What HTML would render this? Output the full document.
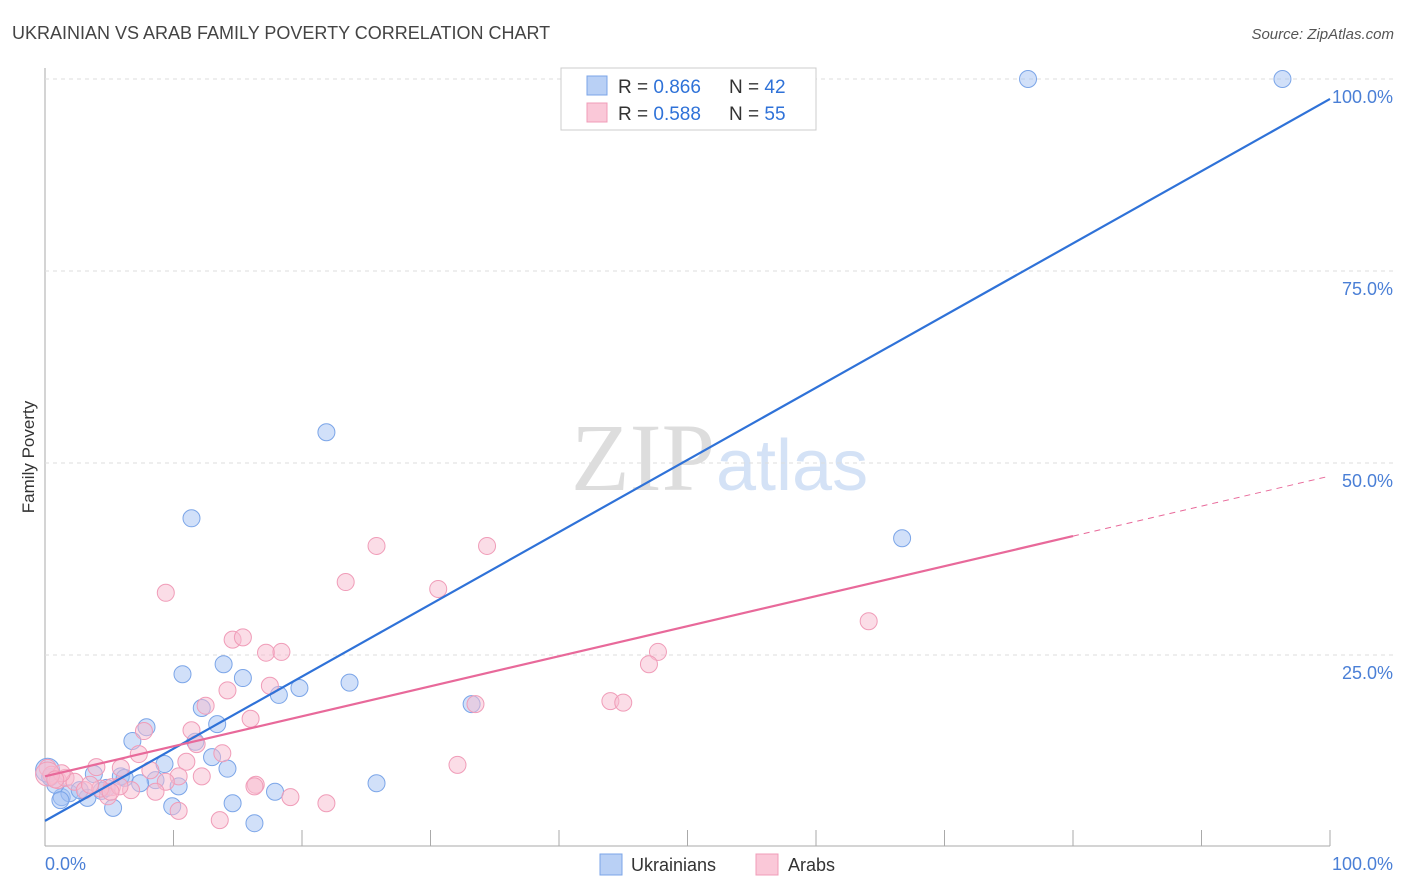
<!DOCTYPE html>
<html><head><meta charset="utf-8"><style>
body{margin:0;background:#fff;font-family:"Liberation Sans",sans-serif;}
#wrap{position:relative;width:1406px;height:892px;overflow:hidden;}
</style></head><body>
<div id="wrap">
<svg id="svg" width="1406" height="892" xmlns="http://www.w3.org/2000/svg" font-family="Liberation Sans, sans-serif">
<text x="12" y="39" font-size="18" fill="#444">UKRAINIAN VS ARAB FAMILY POVERTY CORRELATION CHART</text>
<text x="1394" y="39" font-size="15" fill="#555" font-style="italic" text-anchor="end">Source: ZipAtlas.com</text>
<text x="34" y="457" font-size="17" fill="#333" transform="rotate(-90 34 457)" text-anchor="middle">Family Poverty</text>
<text x="715" y="490" font-size="96" fill="#ddd" text-anchor="end" font-family="Liberation Serif, serif">ZIP</text>
<text x="716" y="490" font-size="72" fill="#d4e2f6">atlas</text>
<g id="grid"></g><g id="pts"></g><g id="lines"></g>
<rect x="561" y="68" width="255" height="62" fill="#fff" stroke="#ccc"/>
<rect x="587" y="76" width="20" height="19" fill="#b9d0f5" stroke="#7ba5e8"/>
<rect x="587" y="103" width="20" height="19" fill="#fac8d8" stroke="#f09cb8"/>
<text x="618" y="93" font-size="19" fill="#333">R = <tspan fill="#2f72d8">0.866</tspan></text>
<text x="729" y="93" font-size="19" fill="#333">N = <tspan fill="#2f72d8">42</tspan></text>
<text x="618" y="120" font-size="19" fill="#333">R = <tspan fill="#2f72d8">0.588</tspan></text>
<text x="729" y="120" font-size="19" fill="#333">N = <tspan fill="#2f72d8">55</tspan></text>
<rect x="600" y="854" width="22" height="21" fill="#b9d0f5" stroke="#7ba5e8"/>
<text x="631" y="871" font-size="18" fill="#333">Ukrainians</text>
<rect x="756" y="854" width="22" height="21" fill="#fac8d8" stroke="#f09cb8"/>
<text x="788" y="871" font-size="18" fill="#333">Arabs</text>
<text x="45" y="870" font-size="18" fill="#4a7fd6">0.0%</text>
<text x="1393" y="870" font-size="18" fill="#4a7fd6" text-anchor="end">100.0%</text>
</svg></div>
<script>
const yTicks=[25,50,75,100];
const yTickLabels=["25.0%","50.0%","75.0%","100.0%"];
const blueX=[76.5,96.3,21.9,11.4,66.7,10.7,13.9,15.4,18.2,19.8,23.7,33.2,12.2,13.4,7.9,6.8,11.7,13.0,9.3,14.2,5.9,6.2,3.8,8.6,10.4,7.4,25.8,17.9,14.6,9.9,5.3,16.3,1.3,1.9,3.3,4.4,0.8,0.4,0.2,2.7,4.8,1.2];
const blueY=[100,100,54.0,42.8,40.2,22.5,23.8,22.0,19.8,20.7,21.4,18.6,18.1,16.0,15.6,13.8,13.7,11.7,10.8,10.2,9.2,9.0,9.5,8.7,7.9,8.3,8.3,7.2,5.7,5.3,5.1,3.1,6.5,7.0,6.4,7.3,8.1,9.1,10.0,7.4,7.7,6.1];
const pinkX=[25.8,34.4,23.4,30.6,9.4,64.1,14.6,15.4,17.2,18.4,47.7,47.0,14.2,17.5,12.5,44.0,45.0,33.5,16.0,11.4,7.7,11.8,13.8,7.3,4.0,5.9,11.0,8.2,32.1,10.4,12.2,16.4,16.3,9.4,5.2,6.7,8.6,4.9,19.1,21.9,10.4,13.6,0.2,0.5,1.0,1.6,2.3,3.1,4.3,5.8,1.3,3.5,5.1,0.2,0.8];
const pinkY=[39.2,39.2,34.5,33.6,33.1,29.4,27.0,27.3,25.3,25.4,25.4,23.8,20.4,21.0,18.4,19.0,18.8,18.6,16.7,15.2,15.1,13.4,12.2,12.1,10.4,10.3,11.1,10.0,10.7,9.2,9.2,8.1,7.9,8.5,7.8,7.4,7.2,6.6,6.5,5.7,4.7,3.5,10.3,9.4,8.7,9.0,8.5,7.4,7.6,7.9,9.6,8.1,7.2,9.5,8.8];
const blueFit=[3.4,97.4];
const pinkFit=[9.2,48.3];
const X=v=>45+v*12.85, Y=v=>847-v*7.68;
const NS="http://www.w3.org/2000/svg";
function mk(t,a,p){const e=document.createElementNS(NS,t);for(const k in a)e.setAttribute(k,a[k]);document.getElementById(p).appendChild(e);return e;}
let ax=mk('line',{x1:45,y1:68,x2:45,y2:846,stroke:'#aaa'},'grid');


let bx=mk('line',{x1:45,y1:846,x2:1330,y2:846,stroke:'#aaa'},'grid');


for(let i=0;i<=10;i++){let t=mk('line',{x1:X(i*10),y1:830,x2:X(i*10),y2:846,stroke:'#aaa'},'grid');

}
yTicks.forEach((v,i)=>{let g=mk('line',{x1:45,y1:Y(v),x2:1393,y2:Y(v),stroke:'#ddd','stroke-dasharray':'4,4'},'grid');


let t=mk('text',{x:1393,y:Y(v)+24,'font-size':18,fill:'#4a7fd6','text-anchor':'end'},'grid');t.textContent=yTickLabels[i];

});
blueX.forEach((x,i)=>{let c=mk('circle',{cx:X(x),cy:Y(blueY[i]),r:i==38?12:8.5,fill:'rgba(164,194,244,0.5)',stroke:'#7ba5e8','stroke-width':1},'pts');

});
pinkX.forEach((x,i)=>{let c=mk('circle',{cx:X(x),cy:Y(pinkY[i]),r:i==53?12:8.5,fill:'rgba(248,187,208,0.5)',stroke:'#f09cb8','stroke-width':1},'pts');

});
let bl=mk('line',{x1:X(0),y1:Y(blueFit[0]),x2:X(100),y2:Y(blueFit[1]),stroke:'#2f72d8','stroke-width':2.2},'lines');


const pAt=v=>pinkFit[0]+(pinkFit[1]-pinkFit[0])*v/100;
let pl=mk('line',{x1:X(0),y1:Y(pAt(0)),x2:X(80),y2:Y(pAt(80)),stroke:'#e8699a','stroke-width':2.2},'lines');


let pd=mk('line',{x1:X(80),y1:Y(pAt(80)),x2:X(100),y2:Y(pAt(100)),stroke:'#e8699a','stroke-width':1,'stroke-dasharray':'6,5'},'lines');


</script>
</body></html>
